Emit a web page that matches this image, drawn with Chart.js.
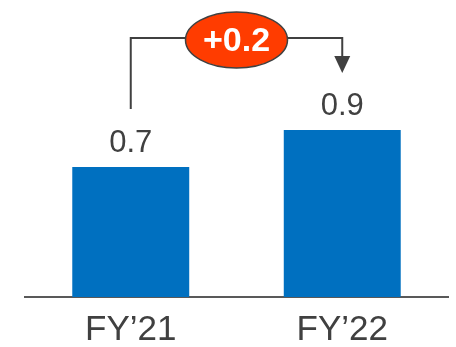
<!DOCTYPE html>
<html>
<head>
<meta charset="utf-8">
<script src="https://cdn.jsdelivr.net/npm/chart.js@4/dist/chart.umd.min.js"></script>
<style>
  html, body { margin: 0; padding: 0; background: #ffffff; }
  #wrap { width: 456px; height: 347px; position: relative; }
</style>
</head>
<body>
<div id="wrap"><canvas id="c" width="456" height="347"></canvas></div>
<script>
const categories = ["FY\u201921", "FY\u201922"];
const values = [0.7, 0.9];
const valueLabels = ["0.7", "0.9"];
const changeLabel = "+0.2";

const BLUE = "#0070C0";
const TEXT = "#404040";
const LINE = "#404040";
const RED = "#FF3C00";
const FONT = "'Liberation Sans', Arial, sans-serif";

const annotationPlugin = {
  id: "annot",
  afterDatasetsDraw(chart) {
    const ctx = chart.ctx;
    const xs = chart.scales.x, ys = chart.scales.y;
    const x0 = xs.getPixelForValue(0), x1 = xs.getPixelForValue(1);
    const t0 = ys.getPixelForValue(values[0]), t1 = ys.getPixelForValue(values[1]);
    ctx.save();
    // value labels
    ctx.fillStyle = TEXT;
    ctx.font = "31px " + FONT;
    ctx.textAlign = "center";
    ctx.textBaseline = "alphabetic";
    ctx.fillText(valueLabels[0], x0, t0 - 15);
    ctx.fillText(valueLabels[1], x1, t1 - 15);
    // bracket
    const topY = 38;
    const arrowTip = t1 - 57;
    const headH = 17, headW = 8;
    ctx.strokeStyle = LINE;
    ctx.lineWidth = 2;
    ctx.beginPath();
    ctx.moveTo(x0, t0 - 58);
    ctx.lineTo(x0, topY);
    ctx.lineTo(x1, topY);
    ctx.lineTo(x1, arrowTip - headH + 1);
    ctx.stroke();
    ctx.fillStyle = LINE;
    ctx.beginPath();
    ctx.moveTo(x1 - headW, arrowTip - headH);
    ctx.lineTo(x1 + headW, arrowTip - headH);
    ctx.lineTo(x1, arrowTip);
    ctx.closePath();
    ctx.fill();
    // ellipse
    const cx = (x0 + x1) / 2, cy = 40;
    ctx.beginPath();
    ctx.ellipse(cx, cy, 51, 28, 0, 0, Math.PI * 2);
    ctx.fillStyle = RED;
    ctx.fill();
    ctx.lineWidth = 1.5;
    ctx.strokeStyle = LINE;
    ctx.stroke();
    ctx.fillStyle = "#ffffff";
    ctx.font = "bold 34px " + FONT;
    ctx.textAlign = "center";
    ctx.textBaseline = "middle";
    ctx.fillText(changeLabel, cx, cy + 2);
    ctx.restore();
  }
};

new Chart(document.getElementById("c"), {
  type: "bar",
  data: {
    labels: categories,
    datasets: [{
      data: values,
      backgroundColor: BLUE,
      borderWidth: 0,
      categoryPercentage: 1,
      barPercentage: 0.553
    }]
  },
  options: {
    responsive: false,
    animation: false,
    devicePixelRatio: 1,
    layout: { padding: { left: 25, right: 8, top: 0, bottom: -17 } },
    plugins: { legend: { display: false }, tooltip: { enabled: false } },
    scales: {
      x: {
        grid: { display: false, drawTicks: false },
        border: { display: true, color: "#595959", width: 2 },
        ticks: {
          color: TEXT,
          font: { family: FONT, size: 35, lineHeight: 1.0 },
          padding: 16
        }
      },
      y: {
        display: false,
        min: 0,
        max: 1.6
      }
    }
  },
  plugins: [annotationPlugin]
});
</script>
</body>
</html>
